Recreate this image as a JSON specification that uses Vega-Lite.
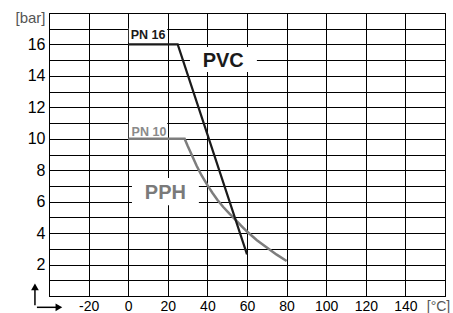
{
  "$schema": "https://vega.github.io/schema/vega-lite/v6.json",
  "width": 396,
  "height": 283,
  "autosize": {"type": "none"},
  "padding": {"left": 49, "top": 13, "right": 8, "bottom": 17},
  "background": "white",
  "config": {
    "view": {"stroke": "black", "strokeWidth": 1},
    "font": "Liberation Sans"
  },
  "datasets": {
    "curves": [
      {"series": "PVC", "T": 0, "P": 16},
      {"series": "PVC", "T": 25, "P": 16},
      {"series": "PVC", "T": 60, "P": 2.65},
      {"series": "PPH", "T": 0, "P": 10},
      {"series": "PPH", "T": 28.5, "P": 10},
      {"series": "PPH", "T": 30, "P": 9.55},
      {"series": "PPH", "T": 32, "P": 9.0},
      {"series": "PPH", "T": 34.5, "P": 8.3},
      {"series": "PPH", "T": 37, "P": 7.68},
      {"series": "PPH", "T": 40, "P": 7.05},
      {"series": "PPH", "T": 42.5, "P": 6.57},
      {"series": "PPH", "T": 45, "P": 6.12},
      {"series": "PPH", "T": 48, "P": 5.66},
      {"series": "PPH", "T": 51, "P": 5.25},
      {"series": "PPH", "T": 54, "P": 4.87},
      {"series": "PPH", "T": 57, "P": 4.48},
      {"series": "PPH", "T": 60, "P": 4.1},
      {"series": "PPH", "T": 65, "P": 3.55},
      {"series": "PPH", "T": 70, "P": 3.08},
      {"series": "PPH", "T": 75, "P": 2.63},
      {"series": "PPH", "T": 80, "P": 2.23}
    ],
    "boxes": [
      {"label": "PVC", "T": 31.2, "T2": 65, "P": 14.25, "P2": 15.84},
      {"label": "PPH", "T": 1.9, "T2": 35.7, "P": 5.78, "P2": 7.5},
      {"label": "PN 16", "T": 0.3, "T2": 19.7, "P": 16.12, "P2": 17.05},
      {"label": "PN 10", "T": 0.3, "T2": 19.7, "P": 10.1, "P2": 11.1}
    ],
    "labels": [
      {"label": "PVC", "T": 48, "P": 14.97},
      {"label": "PPH", "T": 18.8, "P": 6.56},
      {"label": "PN 16", "T": 10, "P": 16.59},
      {"label": "PN 10", "T": 10.5, "P": 10.4}
    ],
    "shafts": [
      {"axis": "y", "T": -47.1, "P": -0.59, "T2": -47.1, "P2": 0.6},
      {"axis": "x", "T": -46.1, "P": -0.72, "T2": -35.5, "P2": -0.72}
    ],
    "heads": [
      {"axis": "y", "T": -47.1, "P": 0.58},
      {"axis": "x", "T": -35.0, "P": -0.72}
    ]
  },
  "encoding": {
    "x": {
      "field": "T",
      "type": "quantitative",
      "scale": {"domain": [-40, 160], "nice": false, "zero": false},
      "axis": {
        "values": [-40, -20, 0, 20, 40, 60, 80, 100, 120, 140, 160],
        "title": null,
        "grid": true,
        "gridColor": "black",
        "gridWidth": 1,
        "gridOpacity": 1,
        "tickSize": 0,
        "domainColor": "black",
        "domainWidth": 1,
        "labelPadding": 3,
        "labelFont": "Liberation Sans",
        "labelFontSize": 14,
        "labelFlush": false,
        "labelOverlap": false,
        "labelBound": false,
        "labelExpr": "datum.value == -40 ? '' : datum.value == 160 ? '[°C]' : toString(datum.value)",
        "labelColor": {"condition": {"test": "datum.value == 160", "value": "#555555"}, "value": "black"},
        "labelOffset": {"condition": {"test": "datum.value == 160", "value": -7}, "value": 0}
      }
    },
    "y": {
      "field": "P",
      "type": "quantitative",
      "scale": {"domain": [0, 18], "nice": false, "zero": false},
      "axis": {
        "values": [0, 1, 2, 3, 4, 5, 6, 7, 8, 9, 10, 11, 12, 13, 14, 15, 16, 17, 18],
        "title": null,
        "grid": true,
        "gridColor": "black",
        "gridWidth": 1,
        "gridOpacity": 1,
        "tickSize": 0,
        "domainColor": "black",
        "domainWidth": 1,
        "labelPadding": 4,
        "labelFont": "Liberation Sans",
        "labelFlush": false,
        "labelOverlap": false,
        "labelBound": false,
        "labelExpr": "datum.value == 18 ? '[bar]' : (datum.value % 2 == 0 && datum.value > 0 ? datum.label : '')",
        "labelFontSize": {"condition": {"test": "datum.value == 18", "value": 15}, "value": 16},
        "labelColor": {"condition": {"test": "datum.value == 18", "value": "#555555"}, "value": "black"},
        "labelOffset": {"condition": {"test": "datum.value == 18", "value": 4}, "value": 0}
      }
    }
  },
  "layer": [
    {
      "data": {"name": "boxes"},
      "mark": {"type": "rect", "fill": "white", "stroke": null},
      "encoding": {"x2": {"field": "T2"}, "y2": {"field": "P2"}}
    },
    {
      "data": {"name": "curves"},
      "transform": [{"filter": "datum.series == 'PPH'"}],
      "mark": {"type": "line", "color": "#7d7d7d", "strokeWidth": 2.5},
      "encoding": {}
    },
    {
      "data": {"name": "curves"},
      "transform": [{"filter": "datum.series == 'PVC'"}],
      "mark": {"type": "line", "color": "#1a1a1a", "strokeWidth": 2.2},
      "encoding": {}
    },
    {
      "data": {"name": "labels"},
      "transform": [{"filter": "datum.label == 'PVC' || datum.label == 'PPH'"}],
      "mark": {"type": "text", "fontWeight": "bold", "font": "Liberation Sans", "fontSize": 20, "align": "center", "baseline": "middle"},
      "encoding": {
        "text": {"field": "label"},
        "color": {"field": "label", "type": "nominal", "scale": {"domain": ["PVC", "PPH", "PN 16", "PN 10"], "range": ["#1a1a1a", "#7a7a7a", "#1a1a1a", "#8a8a8a"]}, "legend": null}
      }
    },
    {
      "data": {"name": "labels"},
      "transform": [{"filter": "datum.label == 'PN 16' || datum.label == 'PN 10'"}],
      "mark": {"type": "text", "fontWeight": "bold", "font": "Liberation Sans", "fontSize": 12.5, "align": "center", "baseline": "middle"},
      "encoding": {
        "text": {"field": "label"},
        "color": {"field": "label", "type": "nominal", "legend": null}
      }
    },
    {
      "data": {"name": "shafts"},
      "mark": {"type": "rule", "color": "black", "strokeWidth": 1.5, "clip": false},
      "encoding": {"x2": {"field": "T2"}, "y2": {"field": "P2"}}
    },
    {
      "data": {"name": "heads"},
      "mark": {"type": "point", "filled": true, "color": "black", "opacity": 1, "size": 60, "clip": false},
      "encoding": {
        "shape": {"field": "axis", "type": "nominal", "scale": {"domain": ["y", "x"], "range": ["triangle-up", "triangle-right"]}, "legend": null}
      }
    }
  ]
}
